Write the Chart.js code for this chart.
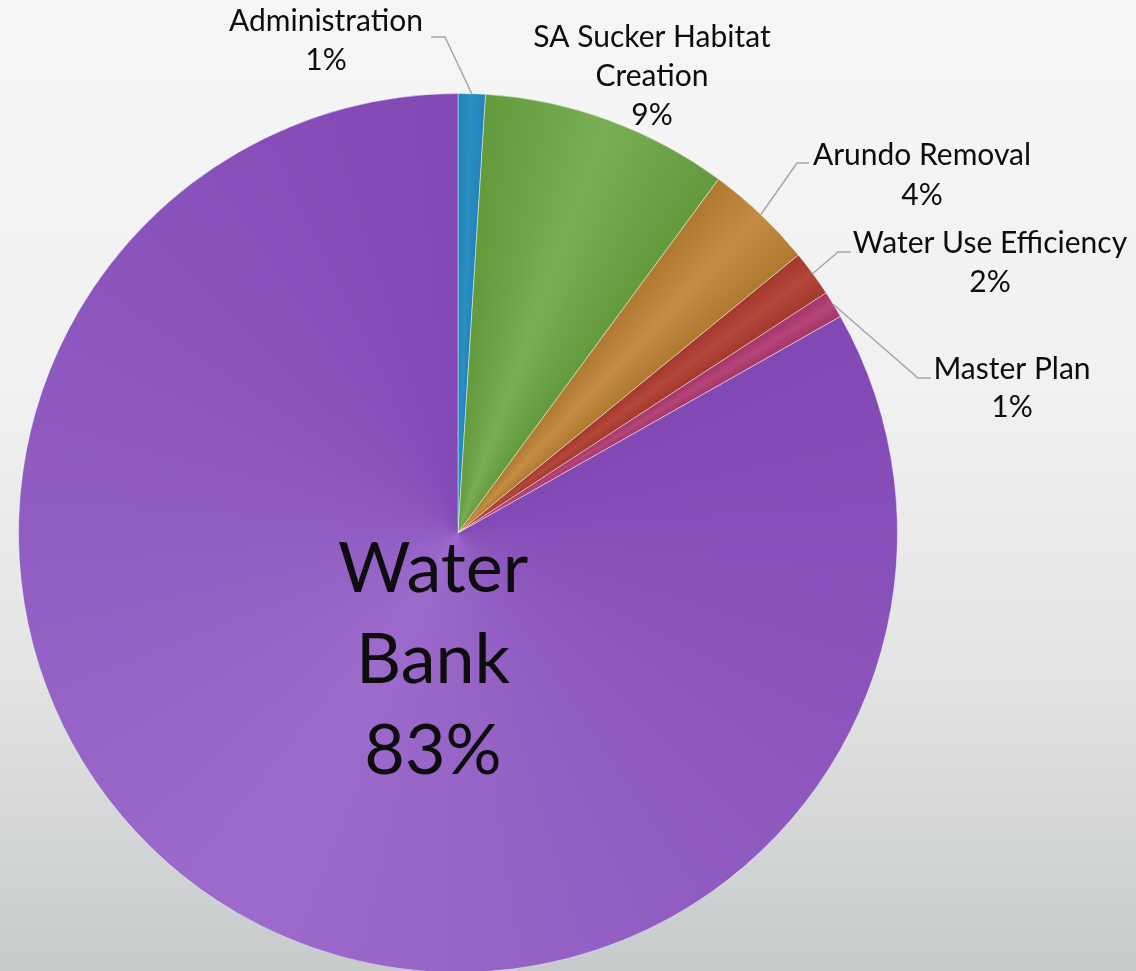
<!DOCTYPE html>
<html>
<head>
<meta charset="utf-8">
<script src="https://cdn.jsdelivr.net/npm/chart.js@4"></script>
<style>
html,body{margin:0;padding:0;width:1136px;height:971px;overflow:hidden;}
body{background:linear-gradient(180deg,#f6f6f6 0%,#f1f1f1 40%,#e2e3e3 70%,#c7cacb 100%);}
#wrap{position:absolute;left:0;top:0;width:1136px;height:975px;}
</style>
</head>
<body>
<div id="wrap"><canvas id="c" width="1136" height="975"></canvas></div>
<script>
const categories = ["Administration", "SA Sucker Habitat Creation", "Arundo Removal", "Water Use Efficiency", "Master Plan", "Water Bank"];
const values = [1.0, 9.1, 4.0, 1.7, 1.0, 83.2];
const percentLabels = ["1%", "9%", "4%", "2%", "1%", "83%"];
const edgeColors = ["#2283b8", "#629a3c", "#b07930", "#a3382c", "#a53668", "#8248b4"];
const midColors  = ["#2a8fc4", "#79ae55", "#c48c45", "#b5473b", "#b6457a", "#9c6bcc"];

let cached = null;
function sliceFill(ctx) {
  const chart = ctx.chart;
  const a = chart.chartArea;
  if (!a) return edgeColors[ctx.dataIndex];
  const cx = (a.left + a.right) / 2, cy = (a.top + a.bottom) / 2;
  const key = cx + "," + cy;
  if (!cached || cached.key !== key) {
    const g = chart.ctx.createConicGradient(-Math.PI / 2, cx, cy);
    const total = values.reduce((s, v) => s + v, 0);
    let acc = 0;
    values.forEach((v, i) => {
      const s = acc / total, e = (acc + v) / total;
      g.addColorStop(Math.min(1, s + 0.0001), edgeColors[i]);
      g.addColorStop((s + e) / 2, midColors[i]);
      g.addColorStop(Math.max(0, e - 0.0001), edgeColors[i]);
      acc += v;
    });
    cached = { key, g };
  }
  return cached.g;
}

// label layout: text centre x, baseline of first line, line step, leader elbow/end
const labelLayout = [
  { x: 326, y: 31, lh: 39, lines: ["Administration"], elbow: [445, 37], end: [431, 37] },
  { x: 652, y: 47, lh: 39, lines: ["SA Sucker Habitat", "Creation"], elbow: null },
  { x: 922, y: 165, lh: 40, lines: ["Arundo Removal"], elbow: [797, 163], end: [809, 163] },
  { x: 990, y: 253, lh: 39, lines: ["Water Use Efficiency"], elbow: [838, 252], end: [851, 252] },
  { x: 1012, y: 379, lh: 38, lines: ["Master Plan"], elbow: [918, 378], end: [931, 378] },
  { x: 433, y: 592, lh: 91, lines: ["Water", "Bank"], elbow: null, big: true }
];

const labelPlugin = {
  id: 'pieLabels',
  afterDatasetsDraw(chart) {
    const ctx = chart.ctx;
    const meta = chart.getDatasetMeta(0);
    ctx.save();
    meta.data.forEach((arc, i) => {
      const L = labelLayout[i];
      if (L.elbow) {
        const mid = (arc.startAngle + arc.endAngle) / 2;
        const px = arc.x + Math.cos(mid) * arc.outerRadius;
        const py = arc.y + Math.sin(mid) * arc.outerRadius;
        ctx.strokeStyle = '#a6a6a6';
        ctx.lineWidth = 1.5;
        ctx.beginPath();
        ctx.moveTo(px, py);
        ctx.lineTo(L.elbow[0], L.elbow[1]);
        ctx.lineTo(L.end[0], L.end[1]);
        ctx.stroke();
      }
      ctx.fillStyle = '#0d0d0d';
      ctx.textAlign = 'center';
      ctx.textBaseline = 'alphabetic';
      ctx.font = (L.big ? '70px' : '30px') + ' Lato, "Open Sans", sans-serif';
      const lines = L.lines.concat([percentLabels[i]]);
      lines.forEach((t, k) => ctx.fillText(t, L.x, L.y + k * L.lh));
    });
    ctx.restore();
  }
};

new Chart(document.getElementById('c'), {
  type: 'pie',
  data: {
    labels: categories,
    datasets: [{
      data: values,
      backgroundColor: sliceFill,
      borderColor: 'rgba(255,255,255,0.45)',
      borderWidth: 1
    }]
  },
  options: {
    responsive: false,
    animation: false,
    layout: { padding: { left: 18, right: 238, top: 93, bottom: 2 } },
    plugins: { legend: { display: false }, tooltip: { enabled: false } }
  },
  plugins: [labelPlugin]
});
</script>
</body>
</html>
